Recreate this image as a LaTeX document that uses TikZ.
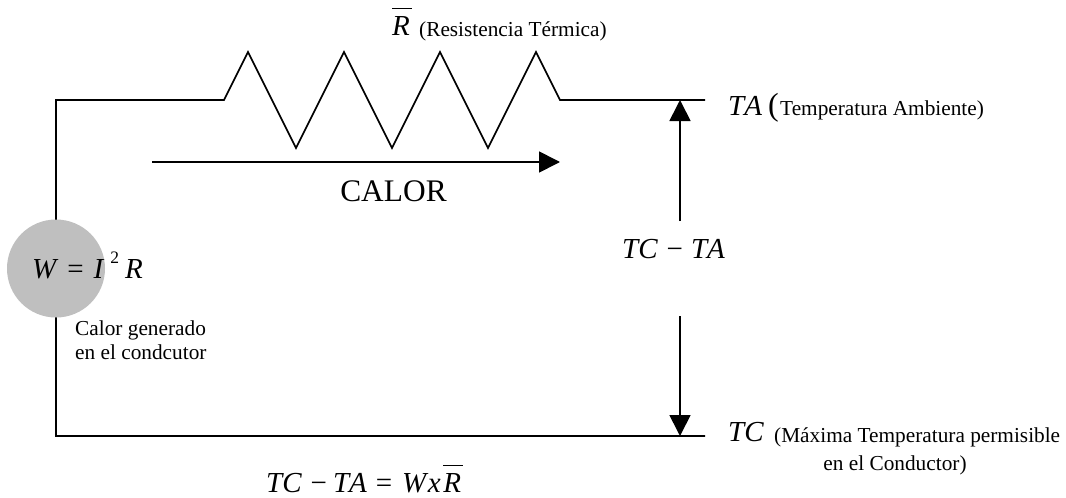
\documentclass[tikz,border=0pt]{standalone}
\usepackage{fontspec}
\setmainfont{Liberation Serif}
\newfontfamily\formulafont[Kerning=Off]{Liberation Serif}
\usetikzlibrary{arrows.meta}
\newcommand{\Rbar}{\rlap{\rule[26.5pt]{20pt}{1pt}}R}
\tikzset{wire/.style={line width=1.7pt,line join=miter},
  flecha/.style={line width=1.7pt,-{Triangle[length=21pt,width=21pt]}},
  mathlbl/.style={inner sep=0pt,anchor=base west,font=\fontsize{29}{29}\selectfont\formulafont\itshape},
  smalllbl/.style={inner sep=0pt,anchor=base west,font=\fontsize{21.3}{21.3}\selectfont},
  calorlbl/.style={circle,fill=black!25,minimum size=98pt,inner sep=0pt}}

\begin{document}
\begin{tikzpicture}[x=1pt,y=-1pt]
      \useasboundingbox (0,0) rectangle (1066,498);

      \coordinate (TL) at (56,100);
      \coordinate (BL) at (56,436);
      \coordinate (BR) at (705,436);
      \coordinate (TR) at (705,100);
      \coordinate (R0) at (224,100);
      \coordinate (R1) at (248,52);
      \coordinate (R2) at (296,148);
      \coordinate (R3) at (344,52);
      \coordinate (R4) at (392,148);
      \coordinate (R5) at (440,52);
      \coordinate (R6) at (488,148);
      \coordinate (R7) at (536,52);
      \coordinate (R8) at (560,100);

      \draw[wire] (BR) -- (BL) -- (TL) -- (R0) -- (R1) -- (R2) -- (R3) -- (R4) -- (R5) -- (R6) -- (R7) -- (R8) -- (TR);

      \node[calorlbl] (W) at (56,268.5) {};

      \coordinate (C0) at (152,162);
      \coordinate (C1) at (560,162);
      \coordinate (U0) at (680,221);
      \coordinate (U1) at (680,100);
      \coordinate (D0) at (680,316);
      \coordinate (D1) at (680,436);
      \draw[flecha] (C0) -- (C1);
      \draw[flecha] (U0) -- (U1);
      \draw[flecha] (D0) -- (D1);

      \node[mathlbl] (Rsym) at (392,35) {\Rbar};
      \node[smalllbl] (Rtxt) at (419,36) {(Resistencia Térmica)};
      \node[inner sep=0pt,anchor=base,font=\fontsize{31.4}{31.4}\selectfont] (calor) at (393.5,201) {CALOR};
      \node[mathlbl] (TA) at (728,115) {TA};
      \node[inner sep=0pt,anchor=base west,font=\fontsize{32}{32}\selectfont] (par) at (768,115) {(};
      \node[smalllbl] (TAtxt) at (780,115) {Temperatura Ambiente)};
      \node[mathlbl] (dif) at (622,258) {TC\hspace{9pt}{\upshape−}\hspace{8pt}TA};
      \node[mathlbl] (formula) at (32,278) {W\hspace{11pt}{\upshape=}\hspace{10pt}I\hspace{7pt}\raisebox{15pt}{\upshape\fontsize{17.5}{17.5}\selectfont 2}\hspace{6pt}R};
      \node[smalllbl,anchor=base west] (gen) at (75,335) {Calor generado};
      \node[smalllbl,anchor=base west] (gen2) at (75,359) {en el condcutor};
      \node[mathlbl] (TC) at (728,441) {TC};
      \node[smalllbl] (TCtxt) at (774,442) {(Máxima Temperatura permisible};
      \node[smalllbl,anchor=base] (TCtxt2) at (895,470) {en el Conductor)};
      \node[mathlbl] (total) at (266,492) {TC\hspace{9pt}{\upshape−}\hspace{6pt}TA\hspace{9pt}{\upshape=}\hspace{10pt}W\hspace{1.5pt}x\hspace{2.5pt}\Rbar};
    \end{tikzpicture}
\end{document}
